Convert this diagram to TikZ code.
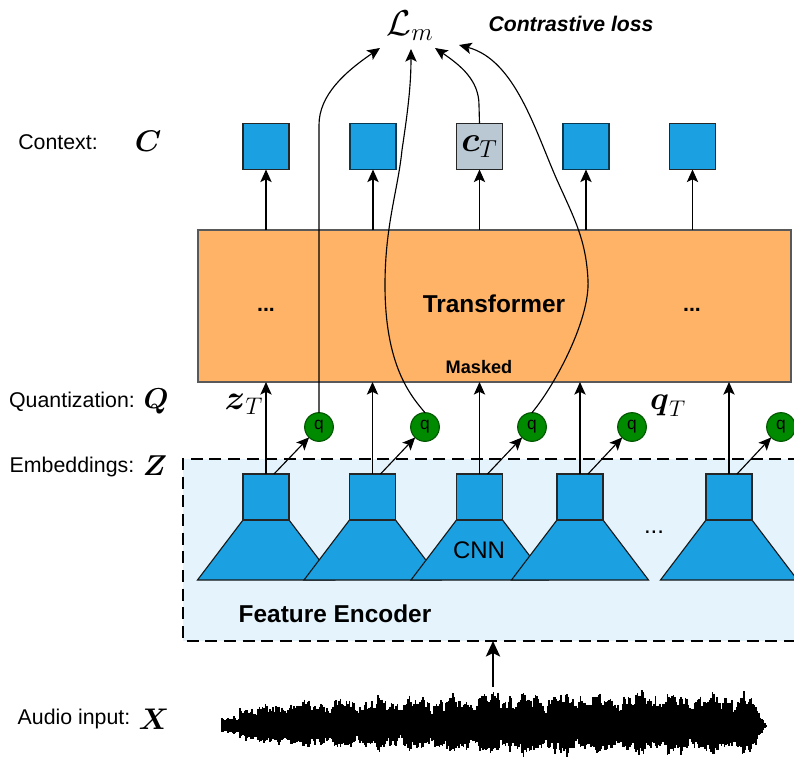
\documentclass[tikz,border=0pt]{standalone}
\usepackage{amsmath}
\usepackage{fontspec}
\setmainfont{Liberation Sans}
\usetikzlibrary{arrows.meta,shapes.geometric}
\definecolor{blu}{HTML}{1BA1E2}
\definecolor{orng}{HTML}{FFB366}
\definecolor{pale}{HTML}{E5F4FC}
\definecolor{slate}{HTML}{BAC8D3}
\definecolor{grn}{HTML}{008A00}
\definecolor{grnd}{HTML}{005700}
\tikzset{
  arr/.style={-{Stealth[length=9.5pt,width=8.5pt,inset=2.2pt]}},
  sq/.style={draw=black!85,fill=blu,minimum size=34.5pt,inner sep=0pt,outer sep=0pt},
  csq/.style={sq,draw=black!65!blu},
  ctsq/.style={sq,fill=slate,draw=black!85},
  qc/.style={circle,draw=grnd,fill=grn,minimum size=21.5pt,inner sep=0pt,outer sep=0pt,font=\fontsize{13}{15}\selectfont},
  lab/.style={font=\fontsize{16}{18}\selectfont,inner sep=0pt},
  blab/.style={font=\fontsize{18.3}{21}\selectfont\bfseries,inner sep=0pt},
  dotlab/.style={font=\fontsize{16}{18}\selectfont\bfseries,inner sep=0pt},
  mth/.style={font=\huge,inner sep=0pt},
  trap/.style={draw=black!90,fill=blu,line join=miter},
  wavebar/.style={line width=1.25pt,black},
}
\begin{document}
\begin{tikzpicture}[x=0.75pt,y=-0.75pt,line width=0.85pt]
\useasboundingbox (0,0) rectangle (794,757);
\clip (0,0) rectangle (794,757);

% transformer
\node[draw=black!65,fill=orng,minimum width=444.75pt,minimum height=114pt,inner sep=0pt,outer sep=0pt] (tf) at (494.5,306) {};
\node[blab] (tft) at (494,304) {Transformer};
\node[dotlab] (dl) at (266,310) {...};
\node[dotlab] (dr) at (692,310) {...};
\node[inner sep=0pt,font=\fontsize{13.6}{15}\selectfont\bfseries] (mk) at (479,367) {Masked};

% feature encoder background
\fill[pale] (183,459) rectangle (800,641);
\draw[dash pattern=on 9pt off 5pt] (800,459) -- (183,459) -- (183,641) -- (800,641);
\node[blab] (fe) at (335,614) {Feature Encoder};

% trapezoids
\foreach \c in {266,372.5,479.5,580,729}{
  \draw[trap] (\c-23,520) -- (\c+23,520) -- (\c+68.5,580) -- (\c-68.5,580) -- cycle;
}
\node[inner sep=0pt,font=\fontsize{18}{21}\selectfont] (cnn) at (479,550) {CNN};
\node[inner sep=0pt,font=\fontsize{18}{21}\selectfont] (edots) at (654,532) {...};

% encoder squares
\node[sq] (e1) at (266,497) {};
\node[sq] (e2) at (372.5,497) {};
\node[sq] (e3) at (479.5,497) {};
\node[sq] (e4) at (580,497) {};
\node[sq] (e5) at (729,497) {};

% q circles
\node[qc] (q1) at (319,427) {q};
\node[qc] (q2) at (425,427) {q};
\node[qc] (q3) at (532,427) {q};
\node[qc] (q4) at (632,427) {q};
\node[qc] (q5) at (781,427) {q};

% context squares
\node[sq] (c1) at (266,146.5) {};
\node[csq] (c2) at (373,146.5) {};
\node[ctsq] (c3) at (479.5,146.5) {\huge\scalebox{1.28}{$\boldsymbol{c}_T$}};
\node[csq] (c4) at (586,146.5) {};
\node[sq] (c5) at (692.5,146.5) {};

% loss
\node[inner sep=0pt,font=\huge] (loss) at (410,26) {\scalebox{1.3}{$\mathcal{L}_m$}};
\node[inner sep=0pt,font=\fontsize{15.9}{18}\selectfont\bfseries\itshape] (cl) at (571,24) {Contrastive loss};
\coordinate (t1) at (380,48);
\coordinate (t2) at (411,49);
\coordinate (t3) at (435,48);
\coordinate (t4) at (459,45);

% upward arrows
\foreach \i in {1,...,5}{
  \draw[arr] (e\i.north) -- (e\i.north |- tf.south);
  \draw[arr] (c\i.south |- tf.north) -- (c\i.south);
  \draw[arr] ([xshift=6pt]e\i.north) -- (q\i);
}

% curves to loss
\draw[arr] (q1.north) -- (319,125) .. controls (319,95) and (345,72) .. (t1);
\draw[arr] (q2.north) .. controls (410,395) and (385,365) .. (385,285)
   .. controls (385,225) and (398,190) .. (402,150)
   .. controls (408,110) and (411,85) .. (t2);
\draw[arr] (c3.north) -- (479,105) .. controls (479,80) and (460,65) .. (t3);
\draw[arr] (q3.north) .. controls (555,385) and (590,320) .. (588,280)
   .. controls (586,240) and (575,220) .. (557,180)
   .. controls (535,130) and (515,60) .. (t4);

% side labels
\node[lab] (l1) at (58,142) {Context:};
\node[lab] (l2) at (72,402) {Quantization:};
\node[lab] (l3) at (72,467) {Embeddings:};
\node[lab] (l4) at (74,719) {Audio input:};
\node[mth] (m1) at (148,141) {\scalebox{1.08}{$\boldsymbol{C}$}};
\node[mth] (m2) at (156,401) {\scalebox{1.04}{$\boldsymbol{Q}$}};
\node[mth] (m3) at (155,466) {\scalebox{1.04}{$\boldsymbol{Z}$}};
\node[mth] (m4) at (154,719) {\scalebox{1.08}{$\boldsymbol{X}$}};
\node[mth] (zt) at (244,404) {\scalebox{1.25}{$\boldsymbol{z}_T$}};
\node[mth] (qt) at (668,406) {\scalebox{1.18}{$\boldsymbol{q}_T$}};

% audio arrow
\coordinate (aud) at (493,687);
\coordinate (enc) at (493,641);
\draw[-{Stealth[length=11.5pt,width=10.5pt,inset=2.5pt]},line width=2.1pt] (aud) -- (enc);

% waveform
\pgfmathsetseed{4217}
\foreach \x in {222,223.5,...,767}{
  \pgfmathsetmacro{\wa}{\x<240?9:(\x<279?22:(\x<480?27+0.025*(\x-279):(\x<750?35:1+2.0*(767-\x))))}
  \pgfmathsetmacro{\wm}{0.60+0.11*sin(mod(\x,37)*9.73)+0.09*sin(mod(\x,14.5)*24.83+30)+0.07*sin(mod(\x,6.3)*57.14+70)}
  \pgfmathsetmacro{\wt}{\wa*(\wm+0.23*rnd)}
  \pgfmathsetmacro{\wb}{0.85*\wa*(\wm+0.23*rnd)}
  \draw[wavebar] (\x,726-\wt) -- (\x,726+\wb);
}
\end{tikzpicture}
\end{document}
